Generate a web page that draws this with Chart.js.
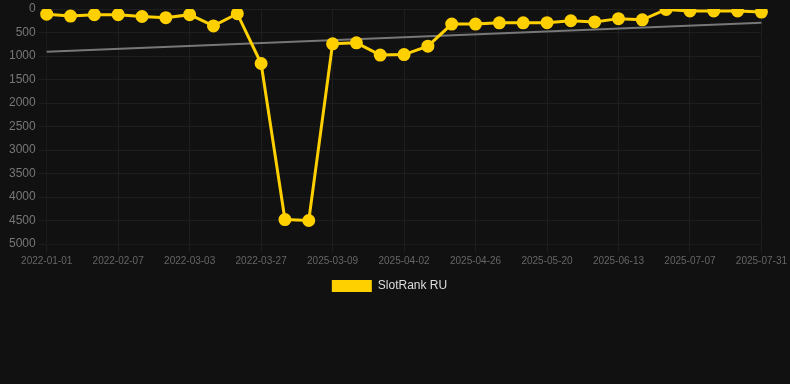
<!DOCTYPE html>
<html>
<head>
<meta charset="utf-8">
<script src="https://cdn.jsdelivr.net/npm/chart.js@4"></script>
<style>
    html, body { margin: 0; padding: 0; background: #111111; }
    #wrap { width: 790px; height: 302px; }
</style>
</head>
<body>
<div id="wrap"><canvas id="myChart"></canvas></div>
<script>
const dates = [
    "2022-01-01", "2022-01-13", "2022-01-25", "2022-02-07", "2022-02-15", "2022-02-23",
    "2022-03-03", "2022-03-11", "2022-03-19", "2022-03-27", "2022-04-04", "2025-03-01",
    "2025-03-09", "2025-03-17", "2025-03-25", "2025-04-02", "2025-04-10", "2025-04-18",
    "2025-04-26", "2025-05-04", "2025-05-12", "2025-05-20", "2025-05-28", "2025-06-05",
    "2025-06-13", "2025-06-21", "2025-06-29", "2025-07-07", "2025-07-15", "2025-07-23",
    "2025-07-31"
]
const rankRU = [
    110, 150, 120, 120, 160, 185, 120, 360, 100, 1160,
    4480, 4500, 740, 720, 980, 970, 790, 320, 320, 295,
    295, 290, 250, 275, 205, 230, 10, 40, 40, 40,
    65
]
// trend only has its two ends, the line spans the gap
const trendStart = 910
const trendEnd = 290

let trend = dates.map(() => null)
trend[0] = trendStart
trend[trend.length - 1] = trendEnd

const gold = "#ffd000"

var ctx = document.getElementById('myChart').getContext('2d');
var myChart = new Chart(ctx, {
    type: 'line',
    data: {
        labels: dates,
        datasets: [
            {
                label: 'SlotRank RU',
                data: rankRU,
                borderColor: gold,
                backgroundColor: gold,
                borderWidth: 3,
                pointRadius: 5,
                pointHoverRadius: 6,
                pointBackgroundColor: gold,
                pointBorderColor: gold,
                fill: false,
                tension: 0
            },
            {
                label: 'trend',
                data: trend,
                borderColor: '#777777',
                borderWidth: 2,
                pointRadius: 0,
                spanGaps: true,
                fill: false
            }
        ]
    },
    options: {
        responsive: true,
        maintainAspectRatio: false,
        animation: false,
        layout: {
            padding: { left: 6, right: 17 }
        },
        plugins: {
            legend: {
                position: 'bottom',
                labels: {
                    color: '#dddddd',
                    boxWidth: 40,
                    boxHeight: 12,
                    font: { size: 12 },
                    filter: item => item.text !== 'trend',
                    generateLabels: function(chart) {
                        const items = Chart.defaults.plugins.legend.labels.generateLabels(chart)
                        items.forEach(it => { it.lineWidth = 0 })
                        return items
                    }
                }
            },
            tooltip: { enabled: false }
        },
        scales: {
            x: {
                grid: { color: '#1e1e1e' },
                ticks: {
                    color: '#666666',
                    font: { size: 10 },
                    autoSkip: false,
                    maxRotation: 0,
                    callback: function(value, index) {
                        return index % 3 === 0 ? this.getLabelForValue(value) : null
                    }
                }
            },
            y: {
                reverse: true,
                min: 0,
                max: 5000,
                grid: { color: '#1e1e1e' },
                ticks: {
                    color: '#777777',
                    font: { size: 12, lineHeight: 0.7 },
                    stepSize: 500,
                    callback: value => String(value)
                }
            }
        }
    }
})
</script>
</body>
</html>
